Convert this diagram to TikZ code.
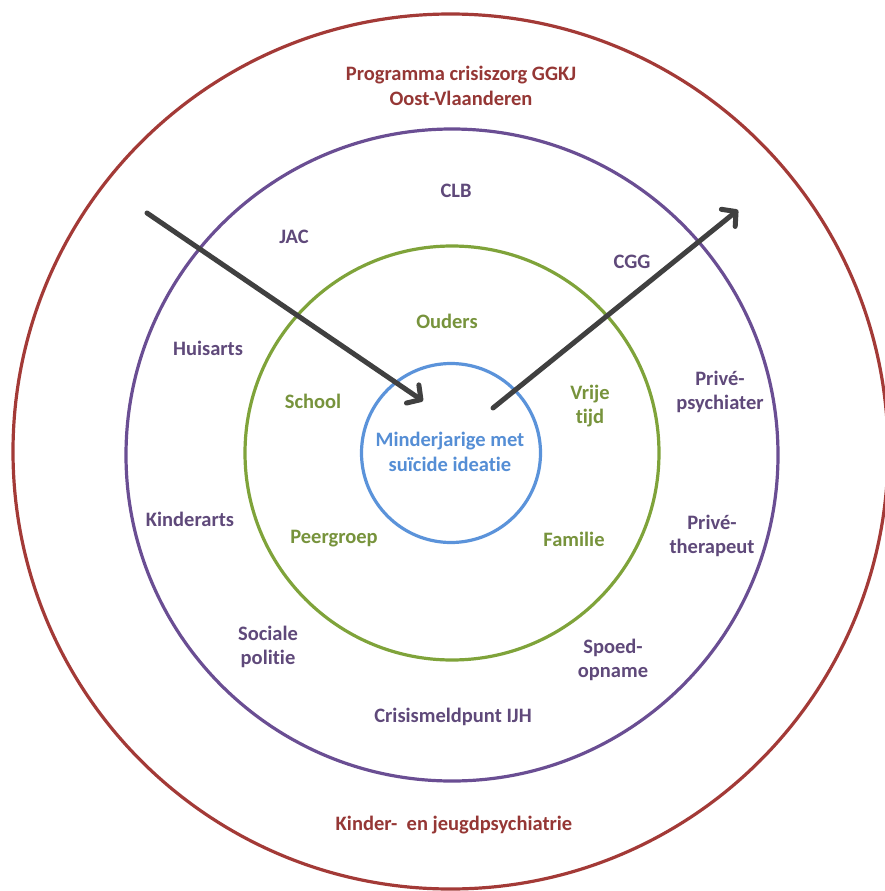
\documentclass[tikz,border=0pt]{standalone}
\usepackage{fontspec}
\setmainfont[Ligatures=NoCommon]{Carlito}
\usetikzlibrary{arrows.meta}
\definecolor{ringred}{HTML}{A33A37}
\definecolor{txtred}{HTML}{953735}
\definecolor{ringpurple}{HTML}{6A4E93}
\definecolor{txtpurple}{HTML}{5F497A}
\definecolor{ringgreen}{HTML}{7FA33A}
\definecolor{txtgreen}{HTML}{77933C}
\definecolor{ringblue}{HTML}{5B93DA}
\definecolor{txtblue}{HTML}{558ED5}
\definecolor{arrowgray}{HTML}{404040}
\begin{document}
\begin{tikzpicture}[x=1pt,y=-1pt,
  lbl/.style={font=\fontsize{20.5}{24.5}\selectfont\bfseries, align=center, inner sep=0pt},
  redlbl/.style={lbl, text=txtred},
  purplbl/.style={lbl, text=txtpurple},
  grnlbl/.style={lbl, text=txtgreen},
  blulbl/.style={lbl, text=txtblue},
  ring/.style={line width=3.2pt},
  flow/.style={draw=arrowgray, line width=5pt, line cap=round,
    -{Straight Barb[length=10pt,width=22pt,line width=5pt,round]}}]
\useasboundingbox (0,0) rectangle (885,891);
% concentric rings
\draw[ring, ringred]    (450.5,451.5) circle (437.5);
\draw[ring, ringpurple] (452,455) circle (326);
\draw[ring, ringgreen]  (452,453) circle (207);
\draw[ring, ringblue]   (451,453) circle (89.5);

% outer ring
\node[redlbl] (prog) at (461,86) {Programma\ crisiszorg\ GGKJ\\Oost-Vlaanderen};
\node[redlbl] (kjp) at (454,825) {Kinder-\ \ en jeugdpsychiatrie};

% middle ring
\node[purplbl] (clb) at (456,191) {CLB};
\node[purplbl] (jac) at (294,237) {JAC};
\node[purplbl] (cgg) at (632,262) {CGG};
\node[purplbl] (huis) at (208,348) {Huisarts};
\node[purplbl] (kind) at (190,519) {Kinderarts};
\node[purplbl] (psych) at (720,392) {Privé-\\psychiater};
\node[purplbl] (ther) at (712,536) {Privé-\\therapeut};
\node[purplbl] (soc) at (268,647) {Sociale\\politie};
\node[purplbl] (spoed) at (613,660) {Spoed-\\opname};
\node[purplbl] (crisis) at (453,717) {Crisismeldpunt IJH};

% inner ring
\node[grnlbl] (ouders) at (447,321) {Ouders};
\node[grnlbl] (school) at (313,401) {School};
\node[grnlbl] (vrije) at (590,406) {Vrije\\tijd};
\node[grnlbl] (peer) at (334,539) {Peergroep};
\node[grnlbl] (fam) at (574,539) {Familie};

% centre
\node[blulbl] (kern) at (450,452) {Minderjarige met\\suïcide ideatie};

% flow in and out
\coordinate (inStart) at (147,213);
\coordinate (inEnd) at (423,401);
\coordinate (outStart) at (493,408);
\coordinate (outEnd) at (738,210);
\draw[flow] (inStart) -- (inEnd);
\draw[flow] (outStart) -- (outEnd);
\end{tikzpicture}
\end{document}
